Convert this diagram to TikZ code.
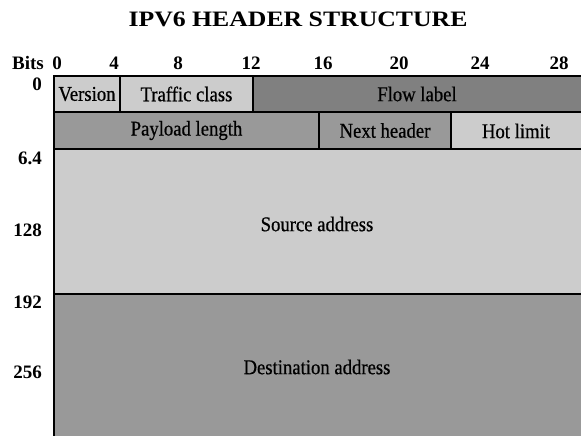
\documentclass[tikz,border=0pt]{standalone}
\usepackage{fontspec}
\setmainfont{Liberation Serif}
\newfontfamily\boxfont{Liberation Serif}[FakeStretch=0.89,FakeBold=0.6]
\definecolor{lightg}{HTML}{CCCCCC}
\definecolor{midg}{HTML}{999999}
\definecolor{darkg}{HTML}{808080}
\begin{document}
\begin{tikzpicture}[x=1pt,y=-1pt,
  field/.style={draw=black,line width=2pt},
  ftext/.style={font=\boxfont\fontsize{21}{24}\selectfont,inner sep=0pt,anchor=center},
  bitlab/.style={font=\fontsize{19}{22}\selectfont\bfseries,inner sep=0pt,anchor=base},
  rowlab/.style={font=\fontsize{19}{22}\selectfont\bfseries,inner sep=0pt,anchor=east}]
\useasboundingbox (0,0) rectangle (581,436);
\clip (0,0) rectangle (581,436);
% fields
\path[field,fill=lightg] (54,76) rectangle (120,112) node[ftext,midway] (ver) {Version};
\path[field,fill=lightg] (120,76) rectangle (253,112) node[ftext,midway] (tc) {Traffic class};
\path[field,fill=darkg] (253,76) rectangle (590,112);
\node[ftext] (fl) at (417,94) {Flow label};
\path[field,fill=midg] (54,112) rectangle (319,149) node[ftext,midway] (pl) {Payload length};
\path[field,fill=midg] (319,112) rectangle (451,149) node[ftext,midway] (nh) {Next header};
\path[field,fill=lightg] (451,112) rectangle (590,149);
\node[ftext] (hl) at (516,131) {Hot limit};
\path[field,fill=lightg] (54,149) rectangle (590,294);
\node[ftext] (src) at (317,224) {Source address};
\path[field,fill=midg] (54,294) rectangle (590,445);
\node[ftext] (dst) at (317,367) {Destination address};
% title
\node[font=\fontsize{22}{26}\selectfont\bfseries,inner sep=0pt,anchor=base] (title) at (298,27) {\scalebox{1.17}[1]{IPV6 HEADER STRUCTURE}};
% bit labels
\node[bitlab] (bits) at (28,70) {Bits};
\node[bitlab] (b0) at (57,70) {0};
\node[bitlab] (b4) at (114,70) {4};
\node[bitlab] (b8) at (178,70) {8};
\node[bitlab] (b12) at (251,70) {12};
\node[bitlab] (b16) at (323,70) {16};
\node[bitlab] (b20) at (399,70) {20};
\node[bitlab] (b24) at (480,70) {24};
\node[bitlab] (b28) at (559,70) {28};
% row labels
\node[rowlab] (r0) at (42,84) {0};
\node[rowlab] (r64) at (42,158) {6.4};
\node[rowlab] (r128) at (42,230) {128};
\node[rowlab] (r192) at (42,302) {192};
\node[rowlab] (r256) at (42,372) {256};
\end{tikzpicture}
\end{document}
